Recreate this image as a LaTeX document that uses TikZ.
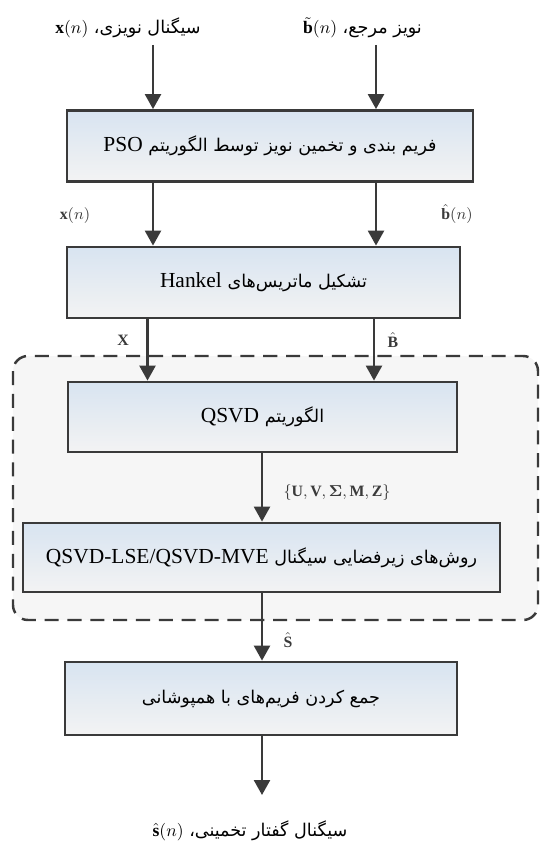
\documentclass[tikz,border=0pt]{standalone}
\usepackage{amsmath,amssymb,bm}
\usepackage{fontspec}
\setmainfont{Liberation Serif}
\newfontfamily\farsi[Script=Arabic]{DejaVu Sans}
\TeXXeTstate=1
\usetikzlibrary{arrows.meta,calc,positioning}
\definecolor{LineGray}{RGB}{58,58,58}
\definecolor{BoxTop}{RGB}{216,228,241}
\definecolor{BoxBot}{RGB}{243,243,243}
\definecolor{DashFill}{RGB}{246,246,246}
\newcommand{\ltr}[1]{\beginL{\rmfamily #1}\endL}
\newcommand{\ltrb}[1]{\beginL{\rmfamily\fontsize{12.2}{14}\selectfont #1}\endL}
\newcommand{\fa}[1]{{\farsi\beginR #1\endR}}

\begin{document}
\begin{tikzpicture}[>={Triangle[width=0.32cm,length=0.3cm]},
  blk/.style={draw=LineGray,line width=1.6pt,top color=BoxTop,bottom color=BoxBot,
    inner sep=0pt,font=\fontsize{10}{12}\selectfont},
  flow/.style={->,draw=LineGray,line width=1.4pt},
  lbl/.style={text=LineGray,font=\small,inner sep=1pt}]
\useasboundingbox (0,0) rectangle (10.82,-16.84);
\draw[draw=LineGray,fill=DashFill,line width=1.4pt,dash pattern=on 8pt off 5pt,rounded corners=0.3cm]
  (0.26,-7.12) rectangle (10.76,-12.4);
\node (xin) at (2.56,-0.56){\fa{سیگنال نویزی، \ltr{$\mathbf{x}(n)$}}};
\node (bin) at (7.25,-0.56){\fa{نویز مرجع، \ltr{$\tilde{\mathbf{b}}(n)$}}};
\coordinate (a1) at (3.06,-0.9);
\coordinate (a2) at (7.52,-0.9);
\coordinate (c1) at (2.95,-6.5);
\coordinate (c2) at (7.48,-6.5);
\node[blk,minimum width=8.12cm,minimum height=1.42cm] (pso) at (5.4,-2.92)
  {\fa{فریم بندی و تخمین نویز توسط الگوریتم \ltrb{PSO}}};
\node[blk,minimum width=7.86cm,minimum height=1.42cm] (hank) at (5.27,-5.65)
  {\fa{تشکیل ماتریس‌های \ltrb{Hankel}}};
\node[blk,minimum width=7.78cm,minimum height=1.4cm] (qsvd) at (5.25,-8.34)
  {\fa{الگوریتم \ltrb{QSVD}}};
\node[blk,minimum width=9.54cm,minimum height=1.38cm] (sub) at (5.23,-11.15)
  {\fa{روش‌های زیرفضایی سیگنال \ltrb{QSVD-LSE/QSVD-MVE}}};
\node[blk,minimum width=7.84cm,minimum height=1.46cm] (ola) at (5.22,-13.97)
  {\fa{جمع کردن فریم‌های با همپوشانی}};
\coordinate (out) at (5.24,-15.9);
\node (sout) at (5.0,-16.62){\fa{سیگنال گفتار تخمینی، \ltr{$\hat{\mathbf{s}}(n)$}}};
% arrows
\draw[flow] (a1) -- (a1 |- pso.north);
\draw[flow] (a2) -- (a2 |- pso.north);
\draw[flow] (pso.south -| a1) -- (hank.north -| a1);
\draw[flow] (pso.south -| a2) -- (hank.north -| a2);
\draw[flow] (hank.south -| c1) -- (qsvd.north -| c1);
\draw[flow] (hank.south -| c2) -- (qsvd.north -| c2);
\draw[flow] (qsvd.south -| out) -- (sub.north -| out);
\draw[flow] (sub.south -| out) -- (ola.north -| out);
\draw[flow] (ola.south -| out) -- (out);
% labels
\node[lbl] (lx) at (1.5,-4.32){$\mathbf{x}(n)$};
\node[lbl] (lb) at (9.14,-4.28){$\hat{\mathbf{b}}(n)$};
\node[lbl] (lX) at (2.46,-6.8){$\mathbf{X}$};
\node[lbl] (lB) at (7.86,-6.8){$\hat{\mathbf{B}}$};
\node[lbl] (lset) at (6.74,-9.86){$\{\mathbf{U},\mathbf{V},\boldsymbol{\Sigma},\mathbf{M},\mathbf{Z}\}$};
\node[lbl] (lS) at (5.76,-12.8){$\hat{\mathbf{S}}$};
\end{tikzpicture}
\end{document}
